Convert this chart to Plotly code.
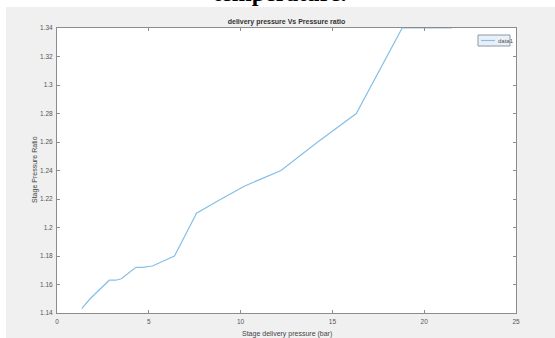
import plotly.graph_objects as go

# Data
pressure = [1.35, 1.8, 2.85, 3.2, 3.5, 4.3, 4.65, 5.2, 6.4, 7.6, 8.8, 10.2, 12.2, 14.2, 16.3, 18.8, 21.5]
ratio = [1.143, 1.150, 1.163, 1.163, 1.164, 1.172, 1.172, 1.173, 1.180, 1.210, 1.219, 1.229, 1.240, 1.260, 1.280, 1.340, 1.340]
x_ticks = [0, 5, 10, 15, 20, 25]
y_ticks = [1.14, 1.16, 1.18, 1.2, 1.22, 1.24, 1.26, 1.28, 1.3, 1.32, 1.34]
y_tick_labels = ["1.14", "1.16", "1.18", "1.2", "1.22", "1.24", "1.26", "1.28", "1.3", "1.32", "1.34"]
series_name = "data1"

W, H = 555, 338
L, R, T, B = 57, 516, 28, 313  # plot area pixel edges
pw, ph = R - L, B - T
LINE_COLOR = "#86bfe8"
FONT = "Liberation Sans"

def px(xp):
    return (xp - L) / pw

def py(yp):
    return (B - yp) / ph

fig = go.Figure()
fig.add_trace(go.Scatter(
    x=pressure, y=ratio, mode="lines", name=series_name,
    line=dict(color=LINE_COLOR, width=1.2), showlegend=False,
))

axis_common = dict(
    showgrid=False, zeroline=False, showline=True, linecolor="#8c8c8c", linewidth=1,
    ticks="inside", ticklen=3, tickcolor="#8c8c8c", mirror="ticks",
    tickfont=dict(family=FONT, size=6.5, color="#555555"),
    automargin=False,
)

fig.update_xaxes(range=[0, 25], tickvals=x_ticks, ticklabelstandoff=2, **axis_common)
fig.update_yaxes(range=[1.14, 1.34], tickvals=y_ticks, ticktext=y_tick_labels,
                 ticklabelstandoff=2, **axis_common)

fig.update_layout(
    width=W, height=H,
    margin=dict(l=L, r=W - R, t=T, b=H - B, pad=0),
    paper_bgcolor="#f0f0f0", plot_bgcolor="white",
    title=dict(text="<b>delivery pressure Vs Pressure ratio</b>", x=0.5, xref="paper",
               y=1 - 22 / H, yanchor="middle", yref="container",
               font=dict(family=FONT, size=7, color="#333333")),
    shapes=[
        dict(type="rect", xref="paper", yref="paper", x0=px(-5), x1=px(W + 5), y0=py(7), y1=py(-5),
             fillcolor="white", line=dict(width=0), layer="above"),
        dict(type="rect", xref="paper", yref="paper", x0=px(-5), x1=px(6), y0=py(H + 5), y1=py(-5),
             fillcolor="white", line=dict(width=0), layer="above"),
        # legend box
        dict(type="rect", xref="paper", yref="paper", x0=px(478), x1=px(510), y0=py(46), y1=py(35),
             fillcolor="#eaf0f7", line=dict(color="#8a97a8", width=1), layer="above"),
        dict(type="line", xref="paper", yref="paper", x0=px(481), x1=px(495), y0=py(40.5), y1=py(40.5),
             line=dict(color=LINE_COLOR, width=1.2), layer="above"),
    ],
    annotations=[
        dict(text="<b>temperature.</b>", xref="paper", yref="paper", x=px(280), y=py(-7),
             xanchor="center", yanchor="middle", showarrow=False,
             font=dict(family="Liberation Serif", size=24, color="black")),
        dict(text=series_name, xref="paper", yref="paper", x=px(496), y=py(40.5),
             xanchor="left", yanchor="middle", showarrow=False,
             font=dict(family=FONT, size=6, color="#555555")),
        dict(text="Stage delivery pressure (bar)", xref="paper", yref="paper", x=0.5, y=py(334),
             xanchor="center", yanchor="middle", showarrow=False,
             font=dict(family=FONT, size=7, color="#444444")),
        dict(text="Stage Pressure Ratio", xref="paper", yref="paper", x=px(35), y=py(170),
             xanchor="center", yanchor="middle", showarrow=False, textangle=-90,
             font=dict(family=FONT, size=7, color="#444444")),
    ],
)

fig.write_html("out.html", config={"displayModeBar": False},
               post_script="document.body.style.margin='0';")
